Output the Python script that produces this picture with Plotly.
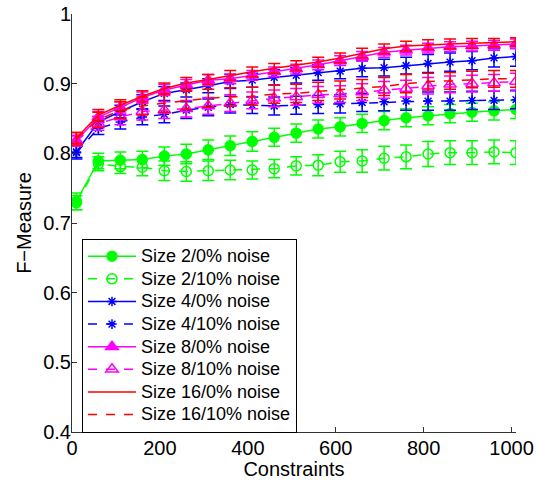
import plotly.graph_objects as go

constraints = [10, 60, 110, 160, 210, 260, 310, 360, 410, 460, 510,
               560, 610, 660, 710, 760, 810, 860, 910, 960, 1010]

size2_0 = [0.731, 0.789, 0.790, 0.791, 0.796, 0.799, 0.805, 0.811, 0.817, 0.823, 0.829,
           0.835, 0.838, 0.843, 0.847, 0.851, 0.854, 0.857, 0.859, 0.861, 0.863]
size2_0_err = [0.012, 0.011, 0.012, 0.012, 0.013, 0.014, 0.014, 0.014, 0.014, 0.013, 0.013,
               0.013, 0.013, 0.013, 0.013, 0.013, 0.013, 0.013, 0.013, 0.013, 0.013]

size2_10 = [0.729, 0.785, 0.781, 0.780, 0.775, 0.774, 0.775, 0.776, 0.776, 0.778, 0.782,
            0.783, 0.788, 0.789, 0.793, 0.795, 0.799, 0.801, 0.801, 0.802, 0.801]
size2_10_err = [0.010, 0.010, 0.010, 0.012, 0.014, 0.014, 0.014, 0.014, 0.013, 0.013, 0.013,
                0.015, 0.015, 0.016, 0.017, 0.017, 0.018, 0.017, 0.017, 0.017, 0.017]

size4_0 = [0.802, 0.845, 0.860, 0.874, 0.886, 0.891, 0.897, 0.903, 0.905, 0.909, 0.912,
           0.916, 0.918, 0.922, 0.923, 0.926, 0.929, 0.931, 0.933, 0.937, 0.939]
size4_0_err = [0.008, 0.008, 0.009, 0.010, 0.010, 0.010, 0.010, 0.010, 0.010, 0.011, 0.011,
               0.011, 0.011, 0.012, 0.012, 0.012, 0.013, 0.013, 0.013, 0.013, 0.014]

size4_10 = [0.801, 0.836, 0.845, 0.852, 0.856, 0.862, 0.866, 0.870, 0.869, 0.868, 0.869,
            0.870, 0.871, 0.873, 0.874, 0.875, 0.875, 0.875, 0.876, 0.876, 0.877]
size4_10_err = [0.009, 0.009, 0.010, 0.011, 0.012, 0.012, 0.012, 0.012, 0.012, 0.013, 0.013,
                0.013, 0.013, 0.013, 0.013, 0.013, 0.013, 0.013, 0.013, 0.013, 0.013]

size8_0 = [0.818, 0.852, 0.866, 0.880, 0.891, 0.898, 0.905, 0.907, 0.912, 0.917, 0.921,
           0.927, 0.933, 0.939, 0.945, 0.948, 0.951, 0.953, 0.954, 0.955, 0.957]
size8_0_err = [0.007, 0.008, 0.008, 0.008, 0.008, 0.008, 0.008, 0.007, 0.007, 0.007, 0.007,
               0.007, 0.007, 0.007, 0.007, 0.007, 0.007, 0.007, 0.007, 0.007, 0.007]

size8_10 = [0.818, 0.843, 0.852, 0.860, 0.862, 0.864, 0.868, 0.872, 0.876, 0.879, 0.881,
            0.884, 0.885, 0.888, 0.891, 0.893, 0.897, 0.899, 0.900, 0.901, 0.903]
size8_10_err = [0.008, 0.010, 0.011, 0.012, 0.012, 0.012, 0.012, 0.012, 0.012, 0.012, 0.012,
                0.012, 0.012, 0.012, 0.012, 0.012, 0.012, 0.012, 0.012, 0.012, 0.012]

size16_0 = [0.822, 0.855, 0.869, 0.882, 0.893, 0.901, 0.906, 0.912, 0.917, 0.922, 0.926,
            0.931, 0.937, 0.944, 0.950, 0.954, 0.956, 0.957, 0.958, 0.959, 0.960]
size16_0_err = [0.008, 0.008, 0.008, 0.008, 0.008, 0.008, 0.007, 0.007, 0.007, 0.007, 0.007,
                0.007, 0.007, 0.007, 0.007, 0.007, 0.007, 0.007, 0.007, 0.006, 0.006]

size16_10 = [0.821, 0.848, 0.862, 0.868, 0.872, 0.876, 0.879, 0.881, 0.882, 0.885, 0.886,
             0.889, 0.891, 0.893, 0.896, 0.900, 0.903, 0.904, 0.906, 0.907, 0.907]
size16_10_err = [0.009, 0.011, 0.012, 0.013, 0.013, 0.013, 0.013, 0.013, 0.013, 0.013, 0.013,
                 0.013, 0.013, 0.013, 0.013, 0.013, 0.012, 0.012, 0.012, 0.012, 0.012]

series_names = ["Size 2/0% noise", "Size 2/10% noise", "Size 4/0% noise", "Size 4/10% noise",
                "Size 8/0% noise", "Size 8/10% noise", "Size 16/0% noise", "Size 16/10% noise"]

y_ticks = [0.4, 0.5, 0.6, 0.7, 0.8, 0.9, 1.0]
y_tick_labels = ["0.4", "0.5", "0.6", "0.7", "0.8", "0.9", "1"]
x_ticks = [0, 200, 400, 600, 800, 1000]

series = [
    (size2_0, size2_0_err, "#00FF00", "solid", "circle", 10),
    (size2_10, size2_10_err, "#00FF00", "dash", "circle-open", 10),
    (size4_0, size4_0_err, "#0000FF", "solid", "asterisk-open", 8),
    (size4_10, size4_10_err, "#0000FF", "dash", "asterisk-open", 8),
    (size8_0, size8_0_err, "#FF00FF", "solid", "triangle-up", 11),
    (size8_10, size8_10_err, "#FF00FF", "dash", "triangle-up-open", 11),
    (size16_0, size16_0_err, "#FF0000", "solid", None, 0),
    (size16_10, size16_10_err, "#FF0000", "dash", None, 0),
]

FONT = "Liberation Sans, Arial, sans-serif"

fig = go.Figure()
for name, (vals, errs, color, dash, sym, msize) in zip(series_names, series):
    mode = "lines+markers" if sym else "lines"
    marker = dict(symbol=sym, size=msize, color=color, line=dict(color=color, width=1.5)) if sym else None
    fig.add_trace(go.Scatter(
        x=constraints, y=vals, mode=mode,
        name='<span style="font-size:18px">' + name + '</span>',
        line=dict(color=color, width=1.5, dash=dash),
        marker=marker,
        error_y=dict(type="data", array=errs, visible=True, color=color, thickness=1.5, width=6),
    ))

fig.update_layout(
    width=538, height=480,
    margin=dict(l=72, r=22, t=14, b=48),
    paper_bgcolor="white", plot_bgcolor="white",
    font=dict(family=FONT, color="black", size=20),
    showlegend=True,
    legend=dict(
        x=0.0225, y=0.462, xanchor="left", yanchor="top",
        bgcolor="white", bordercolor="black", borderwidth=1,
        font=dict(size=15.1, family=FONT),
        tracegroupgap=0, itemwidth=48,
    ),
    xaxis=dict(
        range=[0, 1010], tickvals=x_ticks, ticks="inside", ticklen=5, tickcolor="#333",
        showline=True, linecolor="#333", linewidth=1, showgrid=False, zeroline=False,
        mirror=False, automargin=False, ticklabelstandoff=-2,
        title=dict(text="Constraints", standoff=6, font=dict(size=20)),
        tickfont=dict(size=20),
    ),
    yaxis=dict(
        range=[0.4, 1.0], tickvals=y_ticks, ticktext=y_tick_labels, ticks="inside", ticklen=5,
        tickcolor="#333", showline=True, linecolor="#333", linewidth=1, showgrid=False,
        zeroline=False, automargin=False, ticklabelstandoff=-4,
        title=dict(text="F\u2212Measure", standoff=6, font=dict(size=20)),
        tickfont=dict(size=20),
    ),
)

fig.write_html("out.html", config={"displayModeBar": False},
               post_script="document.body.style.margin='0';document.body.style.overflow='hidden';")
